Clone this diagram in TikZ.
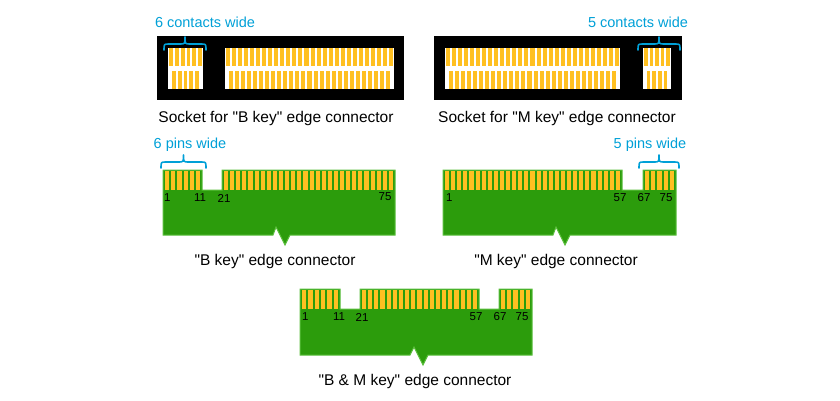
\documentclass[tikz,border=0pt]{standalone}
\usepackage{fontspec}
\setmainfont{Liberation Sans}[Ligatures=TeXOff]
\begin{document}
\begin{tikzpicture}[x=1pt,y=-1pt,
  lbl/.style={font=\fontsize{15.5}{18}\selectfont,text=black,inner sep=0},
  cy/.style={font=\fontsize{14.5}{17}\selectfont,text=cyanc,inner sep=0},
  num/.style={font=\fontsize{11.5}{13}\selectfont,text=black,inner sep=0},
  brace/.style={draw=cyanc,line width=1.6pt,line cap=round,line join=round},
  board/.style={fill=pcbg,draw=pcbl,line width=1pt}]
\definecolor{cyanc}{RGB}{0,160,215}
\definecolor{pcbg}{RGB}{44,156,12}
\definecolor{pcbl}{RGB}{90,190,60}
\definecolor{gold}{RGB}{255,192,33}
\useasboundingbox (0,0) rectangle (840,400);
\newcommand\pinrow[5]{%
  \pgfmathsetmacro\pp{(#2-#1)/#3}%
  \pgfmathtruncatemacro\nn{#3-1}%
  \foreach \i in {0,...,\nn}{\fill[gold] ({#1+\pp*\i+1},#4) rectangle ({#1+\pp*(\i+1)-1},#5);}}
\newcommand\bracepath[3]{%
  \pgfmathsetmacro\xm{(#1+#2)/2}%
  \draw[brace] (#1,#3) .. controls (#1,#3-6) .. (#1+5,#3-6) -- (\xm-5,#3-6) .. controls (\xm,#3-6) .. (\xm,#3-13) .. controls (\xm,#3-6) .. (\xm+5,#3-6) -- (#2-5,#3-6) .. controls (#2,#3-6) .. (#2,#3);}
% ---------- Socket B
\fill[black] (157,36) rectangle (404,100);
\fill[white] (168,48) rectangle (203,89);
\fill[white] (225,48) rectangle (394,89);
\pinrow{168}{203}{6}{48}{66}
\pinrow{170.9}{200.1}{5}{71}{89}
\pinrow{225}{394}{28}{48}{66}
\pinrow{228}{391}{27}{71}{89}
\bracepath{164}{206}{50}
\node[cy] (tb) at (205,22) {6 contacts wide};
\node[lbl] (lb) at (276,118) {Socket for "B key" edge connector};
% ---------- Socket M
\fill[black] (434,36) rectangle (682,100);
\fill[white] (445,48) rectangle (620,89);
\fill[white] (643,48) rectangle (671,89);
\pinrow{445}{620}{29}{48}{66}
\pinrow{448}{617}{28}{71}{89}
\pinrow{643}{671}{5}{48}{66}
\pinrow{645.8}{668.2}{4}{71}{89}
\bracepath{638}{680}{50}
\node[cy] (tm) at (638,22) {5 contacts wide};
\node[lbl] (lm) at (557,118) {Socket for "M key" edge connector};
% ---------- Connector B
\draw[board] (163,170) -- (202,170) -- (202,190) -- (222,190) -- (222,170) -- (395,170) -- (395,235) -- (290,235) -- (285,245) -- (276,227) -- (273,235) -- (163,235) -- cycle;
\pinrow{164}{201}{6}{171}{190}
\pinrow{223}{394}{28}{171}{190}
\bracepath{161}{206}{168}
\node[cy] (pb) at (190,145) {6 pins wide};
\node[num,anchor=west] (b1) at (164,198) {1};
\node[num] (b11) at (200,198) {11};
\node[num] (b21) at (224,198) {21};
\node[num] (b75) at (385,197) {75};
\node[lbl] (cb) at (275,261) {"B key" edge connector};
% ---------- Connector M
\draw[board] (443,170) -- (622,170) -- (622,190) -- (643,190) -- (643,170) -- (676,170) -- (676,235) -- (570,235) -- (565,245) -- (556,227) -- (553,235) -- (443,235) -- cycle;
\pinrow{444}{621}{29}{171}{190}
\pinrow{644}{675}{5}{171}{190}
\bracepath{639}{679}{168}
\node[cy] (pm) at (650,145) {5 pins wide};
\node[num,anchor=west] (m1) at (446,198) {1};
\node[num] (m57) at (620,198) {57};
\node[num] (m67) at (644,198) {67};
\node[num] (m75) at (666,198) {75};
\node[lbl] (cm) at (556,261) {"M key" edge connector};
% ---------- Connector B&M
\draw[board] (300,289) -- (340,289) -- (340,309) -- (360,309) -- (360,289) -- (479,289) -- (479,309) -- (499,309) -- (499,289) -- (532,289) -- (532,355) -- (428,355) -- (423,365) -- (414,347) -- (410,355) -- (300,355) -- cycle;
\pinrow{301}{339}{6}{290}{309}
\pinrow{361}{478}{19}{290}{309}
\pinrow{500}{531}{5}{290}{309}
\node[num,anchor=west] (c1) at (302,317) {1};
\node[num] (c11) at (339,317) {11};
\node[num] (c21) at (362,317) {21};
\node[num] (c57) at (476,317) {57};
\node[num] (c67) at (500,317) {67};
\node[num] (c75) at (522,317) {75};
\node[lbl] (cbm) at (415,381) {"B \& M key" edge connector};
\end{tikzpicture}
\end{document}
